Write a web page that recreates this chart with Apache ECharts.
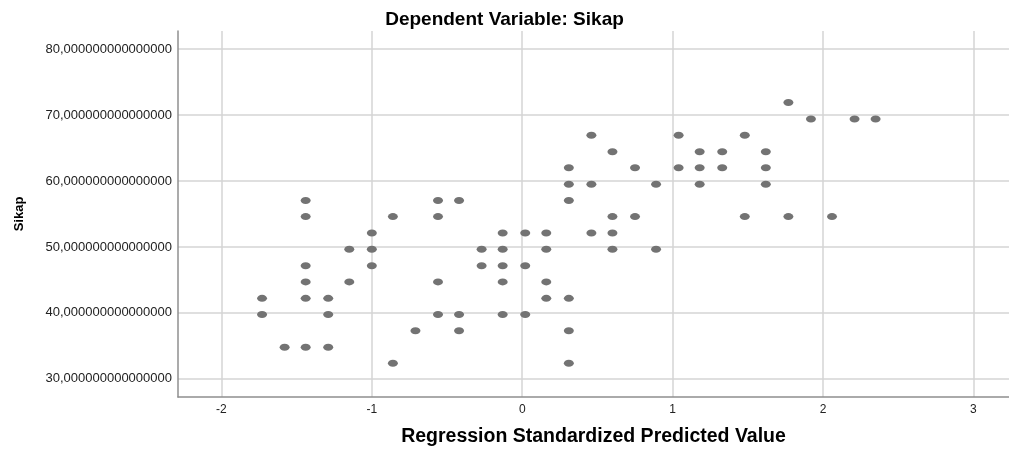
<!DOCTYPE html>
<html>
<head>
<meta charset="utf-8">
<script src="https://cdn.jsdelivr.net/npm/echarts@6/dist/echarts.min.js"></script>
<style>html,body{margin:0;padding:0;background:#fff;}#c{width:1009px;height:452px;}</style>
</head>
<body>
<div id="c"></div>
<script>
// Regression Standardized Predicted Value (x) and Sikap (y), one entry per point
var predicted = [
  1.77,
  1.92, 2.21, 2.35,
  0.46, 1.04, 1.48,
  0.60, 1.18, 1.33, 1.62,
  0.31, 0.75, 1.04, 1.18, 1.33, 1.62,
  0.31, 0.46, 0.89, 1.18, 1.62,
  -1.44, -0.56, -0.42, 0.31,
  -1.44, -0.86, -0.56, 0.60, 0.75, 1.48, 1.77, 2.06,
  -1.00, -0.13, 0.02, 0.16, 0.46, 0.60,
  -1.15, -1.00, -0.27, -0.13, 0.16, 0.60, 0.89,
  -1.44, -1.00, -0.27, -0.13, 0.02,
  -1.44, -1.15, -0.56, -0.13, 0.16,
  -1.73, -1.44, -1.29, 0.16, 0.31,
  -1.73, -1.29, -0.56, -0.42, -0.13, 0.02,
  -0.71, -0.42, 0.31,
  -1.58, -1.44, -1.29,
  -0.86, 0.31
];
var sikap = [
  71.9,
  69.4, 69.4, 69.4,
  66.95, 66.95, 66.95,
  64.45, 64.45, 64.45, 64.45,
  62.0, 62.0, 62.0, 62.0, 62.0, 62.0,
  59.5, 59.5, 59.5, 59.5, 59.5,
  57.05, 57.05, 57.05, 57.05,
  54.6, 54.6, 54.6, 54.6, 54.6, 54.6, 54.6, 54.6,
  52.1, 52.1, 52.1, 52.1, 52.1, 52.1,
  49.65, 49.65, 49.65, 49.65, 49.65, 49.65, 49.65,
  47.15, 47.15, 47.15, 47.15, 47.15,
  44.7, 44.7, 44.7, 44.7, 44.7,
  42.2, 42.2, 42.2, 42.2, 42.2,
  39.75, 39.75, 39.75, 39.75, 39.75, 39.75,
  37.3, 37.3, 37.3,
  34.8, 34.8, 34.8,
  32.35, 32.35
];
var xTicks = [-2, -1, 0, 1, 2, 3];
var xTickLabels = ['-2', '-1', '0', '1', '2', '3'];
var yTicks = [30, 40, 50, 60, 70, 80];
var yTickLabels = ['30,000000000000000', '40,000000000000000', '50,000000000000000',
                   '60,000000000000000', '70,000000000000000', '80,000000000000000'];
var titleText = 'Dependent Variable: Sikap';
var xName = 'Regression Standardized Predicted Value';
var yName = 'Sikap';

var points = predicted.map(function (x, i) { return [x, sikap[i]]; });
var FONT = '"Liberation Sans", Arial, sans-serif';

var chart = echarts.init(document.getElementById('c'), null, { renderer: 'canvas' });
chart.setOption({
  animation: false,
  backgroundColor: '#ffffff',
  title: {
    text: titleText, left: 'center', top: 5,
    textStyle: { fontFamily: FONT, fontWeight: 'bold', fontSize: 19, color: '#000' }
  },
  grid: { left: 178, right: 0, top: 31, bottom: 51, containLabel: false },
  xAxis: {
    type: 'value', min: -2.289, max: 3.237,
    name: xName, nameLocation: 'middle', nameGap: 30,
    nameTextStyle: { fontFamily: FONT, fontWeight: 'bold', fontSize: 19.5, color: '#000' },
    axisLine: { show: true, onZero: false, lineStyle: { color: '#8f8f8f', width: 1.5 } },
    axisTick: { show: false, customValues: xTicks },
    axisLabel: {
      customValues: xTicks, margin: 7,
      fontFamily: FONT, fontSize: 12, color: '#222',
      formatter: function (v) { var i = xTicks.indexOf(v); return i >= 0 ? xTickLabels[i] : ''; }
    },
    splitLine: { show: true, lineStyle: { color: '#d4d4d4', width: 1.5 } }
  },
  yAxis: {
    type: 'value', min: 27.24, max: 82.75,
    name: yName, nameLocation: 'middle', nameGap: 152, nameRotate: 90,
    nameTextStyle: { fontFamily: FONT, fontWeight: 'bold', fontSize: 13, color: '#000' },
    axisLine: { show: true, onZero: false, lineStyle: { color: '#8f8f8f', width: 1.5 } },
    axisTick: { show: false, customValues: yTicks },
    axisLabel: {
      customValues: yTicks, margin: 6,
      fontFamily: FONT, fontSize: 13, color: '#222',
      formatter: function (v) { var i = yTicks.indexOf(v); return i >= 0 ? yTickLabels[i] : ''; }
    },
    splitLine: { show: true, lineStyle: { color: '#d4d4d4', width: 1.5 } }
  },
  series: [{
    type: 'scatter',
    data: points,
    symbol: 'circle',
    symbolSize: [10, 7],
    itemStyle: { color: '#737373', opacity: 1 }
  }]
});
</script>
</body>
</html>
